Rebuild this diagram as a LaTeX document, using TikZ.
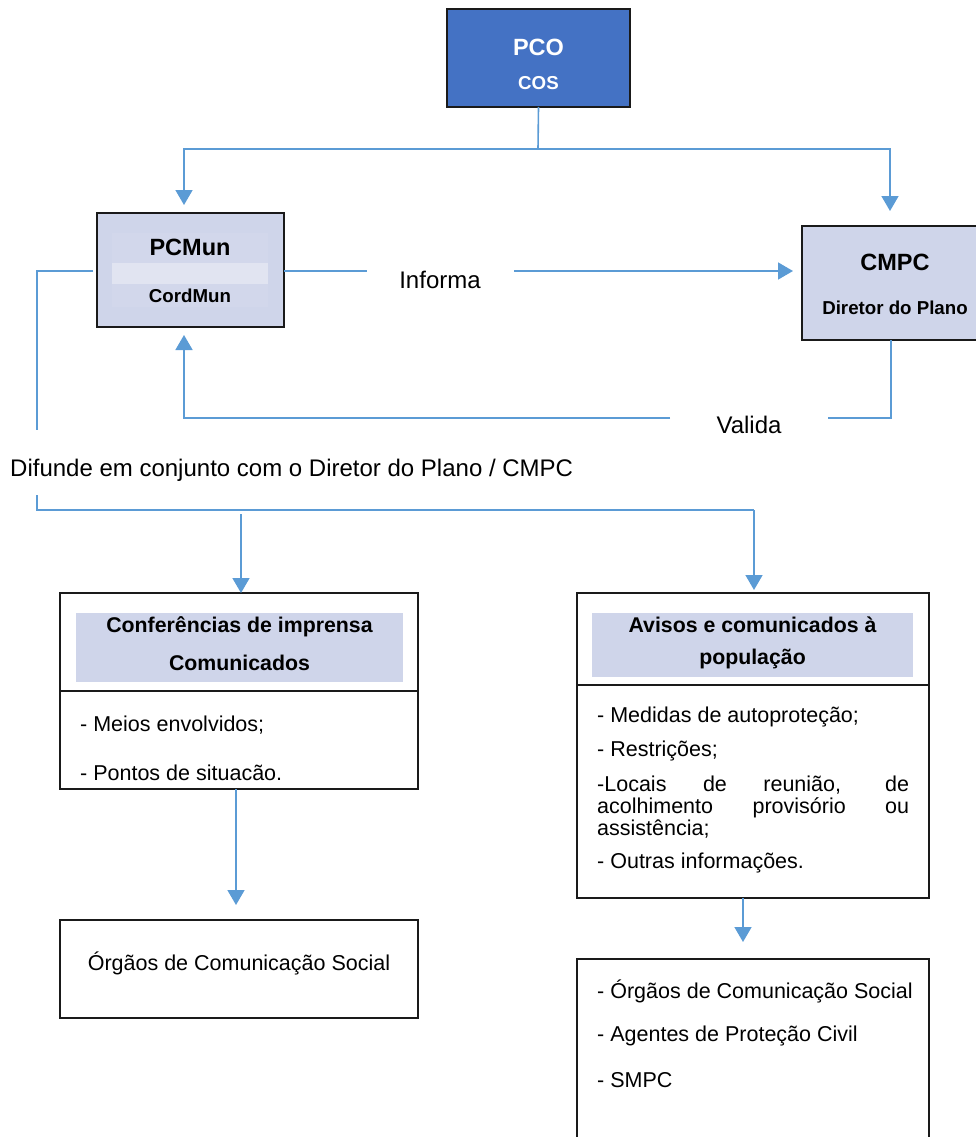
\documentclass[tikz,border=0pt]{standalone}
\usepackage{fontspec}
\setmainfont{Liberation Sans}
\usetikzlibrary{arrows.meta}
\definecolor{connblue}{HTML}{5B9BD5}
\definecolor{pcoblue}{HTML}{4472C4}
\definecolor{lav}{HTML}{CFD5EA}
\definecolor{lavin}{HTML}{D2D7EB}
\definecolor{bandc}{HTML}{E1E4F1}
\definecolor{edgec}{HTML}{1A1A1A}
\begin{document}
\begin{tikzpicture}[x=1pt,y=-1pt,
  box/.style={draw=edgec, line width=1.6pt, inner sep=0pt, outer sep=0pt},
  conn/.style={draw=connblue, line width=1.6pt},
  arr/.style={conn, -{Triangle[width=17pt,length=15pt]}},
  bigb/.style={font=\fontsize{23.5}{26}\selectfont\bfseries, inner sep=0pt},
  smallb/.style={font=\fontsize{18.7}{21}\selectfont\bfseries, inner sep=0pt},
  lab/.style={font=\fontsize{24}{26}\selectfont, inner sep=0pt},
  item/.style={font=\fontsize{21.5}{22}\selectfont, inner sep=0pt, anchor=west},
  head/.style={font=\fontsize{21.3}{24}\selectfont\bfseries, inner sep=0pt},
  fillonly/.style={inner sep=0pt, outer sep=0pt, draw=none},
]
\useasboundingbox (0,0) rectangle (976,1137);
\clip (0,0) rectangle (976,1137);

% top box
\node[box, fill=pcoblue, minimum width=183pt, minimum height=98pt] (pco) at (538.5,58) {};
\node[bigb, text=white] (pcot) at (538.5,47) {PCO};
\node[smallb, text=white] (cost) at (538.5,83) {COS};

% PCMun
\node[box, fill=lav, minimum width=187pt, minimum height=114pt] (pcmun) at (190.5,270) {};
\node[fillonly, fill=lavin, minimum width=156pt, minimum height=74pt] (pcin) at (190,270) {};
\node[fillonly, fill=bandc, minimum width=156pt, minimum height=21pt] (pcband) at (190,273.5) {};
\node[bigb] (pcmunt) at (190,247) {PCMun};
\node[smallb] (cordt) at (190,296) {CordMun};

% CMPC
\node[box, fill=lav, minimum width=186pt, minimum height=114pt] (cmpc) at (895,283) {};
\node[bigb] (cmpct) at (895,262) {CMPC};
\node[smallb] (dirt) at (895,308) {Diretor do Plano};

% Conferencias box
\node[box, minimum width=358pt, minimum height=98pt] (confh) at (239,642) {};
\node[box, minimum width=358pt, minimum height=98pt] (confb) at (239,740) {};
\node[fillonly, fill=lav, minimum width=327pt, minimum height=69pt] (confband) at (239.5,647.5) {};
\node[head] (conft1) at (239.5,627) {Conferências de imprensa};
\node[head] (conft2) at (239.5,663) {Comunicados};
\node[item] (meios) at (80,725) {- Meios envolvidos;};
\node[item] (pontos) at (80,773) {- Pontos de situacão.};

% Orgaos box
\node[box, minimum width=358pt, minimum height=98pt] (orgaos) at (239,969) {};
\node[font=\fontsize{21.5}{22}\selectfont, inner sep=0pt] (orgaost) at (239,963) {Órgãos de Comunicação Social};

% Avisos box
\node[box, minimum width=352pt, minimum height=92pt] (avh) at (753,639) {};
\node[box, minimum width=352pt, minimum height=213pt] (avb) at (753,791.5) {};
\node[fillonly, fill=lav, minimum width=321pt, minimum height=64pt] (avband) at (752.5,645) {};
\node[head] (avt1) at (752.5,625) {Avisos e comunicados à};
\node[head] (avt2) at (752.5,659) {população};
\node[item] (medidas) at (597,717) {- Medidas de autoproteção;};
\node[item] (restr) at (597,751) {- Restrições;};
\node[item, text width=312pt, align=justify] (locais) at (597,807)
  {\hyphenpenalty=10000 -Locais de reunião, de\linebreak acolhimento provisório ou\linebreak assistência;};
\node[item] (outras) at (597,863) {- Outras informações.};

% last box
\node[box, minimum width=352pt, minimum height=191pt] (last) at (753,1054.5) {};
\node[item] (l1t) at (597,991) {- Órgãos de Comunicação Social};
\node[item] (l2t) at (597,1036) {- Agentes de Proteção Civil};
\node[item] (l3t) at (597,1080) {- SMPC};

% labels
\node[lab] (informa) at (440,280) {Informa};
\node[lab] (valida) at (749,425) {Valida};
\node[lab, anchor=west] (difunde) at (10,470) {Difunde em conjunto com o Diretor do Plano / CMPC};

% coordinates
\coordinate (j1) at (538,149);
\coordinate (infL) at (367,271);
\coordinate (infR) at (514,271);
\coordinate (vR) at (828,418);
\coordinate (vL) at (670,418);
\coordinate (lt) at (37,430);
\coordinate (lb) at (37,495);
\coordinate (lc) at (37,510);
\coordinate (rc) at (754,510);
\coordinate (b1) at (241,514);

% connectors
\draw[conn] (pco.south) -- (j1);
\draw[arr, shorten >=8pt] (j1) -| ([xshift=-6.5pt]pcmun.north);
\draw[arr, shorten >=15pt] (j1) -| ([xshift=-5pt]cmpc.north);
\draw[conn] (pcmun.east |- infL) -- (infL);
\draw[arr, shorten >=9pt] (infR) -- (cmpc.west |- infR);
\draw[conn] ([xshift=-4pt]cmpc.south) |- (vR);
\draw[arr, shorten >=8pt] (vL) -| ([xshift=-6.5pt]pcmun.south);
\draw[conn] ([xshift=-4pt]pcmun.west |- infL) -| (lt);
\draw[conn] (lb) -- (lc) -- (rc);
\draw[arr, shorten >=3pt] (rc) -- (avh.north -| rc);
\draw[arr] (b1) -- (confh.north -| b1);
\draw[arr, shorten >=15pt] ([xshift=-3pt]confb.south) -- ([xshift=-3pt]orgaos.north);
\draw[arr, shorten >=17pt] ([xshift=-10pt]avb.south) -- ([xshift=-10pt]last.north);
\end{tikzpicture}
\end{document}
